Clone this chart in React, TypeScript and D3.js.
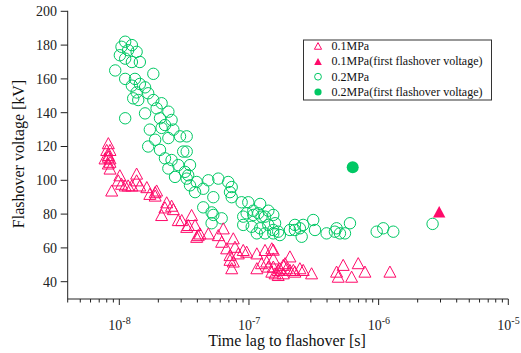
import React, { useEffect } from "react";
import * as d3 from "d3";

// time lag in ns, flashover voltage in kV
const p01: [number, number][] = [
  [8.23, 122], [8.0, 118], [8.48, 118], [8.23, 115], [8.23, 114], [7.76, 113], [8.48, 113],
  [8.48, 111], [8.23, 110], [8.48, 107], [10.1, 103], [9.82, 100], [10.4, 98], [8.74, 94],
  [13.6, 104], [13.6, 100], [12.5, 97], [11.7, 97], [11.1, 97], [14.4, 97], [16.3, 96],
  [18.9, 93], [17.2, 92], [19.4, 94], [18.9, 91], [23.2, 87], [22.5, 84], [26.1, 83],
  [25.3, 85], [21.2, 79.5], [28.5, 76.5], [36.1, 79.5], [33.1, 72.5], [39.5, 66.6],
  [30.3, 76.5], [34, 73.6], [38.4, 73.6], [41.9, 68.6], [48.6, 68.6], [40.6, 67.6],
  [63.4, 71.6], [58, 67.6], [61.6, 63.7], [67.3, 59.8], [75.7, 65.7], [78, 60.7],
  [82.7, 56.8], [71.4, 55.8], [75.7, 52], [73.6, 48], [71.4, 53], [90.3, 58.8], [96, 57.8],
  [115, 56.8], [133, 58.8], [150, 59.8], [125, 51], [115, 48], [137, 52], [154, 53.8],
  [141, 49], [168, 47], [150, 46], [184, 50], [207, 55], [195, 48], [220, 47], [247, 48],
  [168, 44], [154, 59], [154, 49], [173, 48], [190, 51], [207, 47], [226, 46], [262, 47],
  [304, 45], [159, 45], [184, 45], [474, 46], [533, 50], [696, 51], [619, 43], [784, 46],
  [488, 43], [1222, 46],
];
const p01First: [number, number][] = [[2931, 81.4]];

const p02: [number, number][] = [
  [11.1, 182], [12.5, 180], [10.4, 179], [11.7, 177], [13.6, 176], [10.1, 174], [11.1, 172],
  [14.4, 170], [12.5, 170], [9.3, 165], [11.1, 160], [13.2, 160], [18.3, 163], [12.5, 156],
  [14.4, 157], [15.8, 155], [13.6, 152], [16.7, 151.5], [12.8, 148.5], [14.0, 147.5],
  [18.3, 147.5], [21.2, 145.6], [19.4, 142.6], [23.9, 140.6], [11.1, 136.7], [15.8, 139.6],
  [20.6, 136.7], [25.3, 135.7], [22.5, 132.7], [17.2, 130], [21.2, 131], [26.1, 130],
  [29.4, 126], [23.9, 125], [18.9, 124], [16.7, 120], [20.6, 118], [31.1, 117], [22.5, 113],
  [25.3, 112], [23.9, 107], [28.5, 109], [32.1, 105], [26.9, 102], [33.1, 101], [35.1, 97],
  [33.1, 126], [33.1, 117], [35.1, 109], [34, 103], [39.5, 99], [48.6, 100], [58, 101],
  [69.2, 99], [73.6, 96], [71.4, 93], [73.6, 90], [38.4, 93], [44.4, 95], [53.1, 90],
  [44.4, 84], [51.5, 81], [61.6, 77.5], [98.8, 87], [87.8, 87], [122, 86], [108, 82],
  [118, 80.5], [141, 82], [133, 78.5], [96, 80.5], [53.1, 79.5], [51.5, 74.6], [90.3, 78.5],
  [108, 79.5], [125, 78.5], [154, 79.5], [90.3, 73.6], [105, 72.5], [122, 71.6], [141, 73.6],
  [159, 74.6], [168, 69.6], [154, 68.6], [133, 68.6], [115, 68.6], [226, 73.6], [247, 71.6],
  [207, 70.6], [154, 70.6], [173, 67.6], [262, 73.6], [313, 76.5], [323, 70.6], [255, 66.6],
  [226, 70.6], [397, 68.6], [474, 71.6], [601, 74.6], [550, 68.6], [503, 68.6], [460, 69.6],
  [966, 69.6], [1085, 71.6], [1297, 69.6], [2607, 74.2],
];
const p02First: [number, number][] = [[631, 107.7]];

const yTicks = [40, 60, 80, 100, 120, 140, 160, 180, 200];
const xDecades = [-8, -7, -6, -5];
const legendLabels = [
  "0.1MPa",
  "0.1MPa(first flashover voltage)",
  "0.2MPa",
  "0.2MPa(first flashover voltage)",
];

const PINK = "#ff0a6a";
const GREEN = "#00c864";
const FONT = "'Liberation Serif', 'Times New Roman', serif";

const tri = (s: number) => `M0,${-s}L${s},${s * 0.85}L${-s},${s * 0.85}Z`;

export default function App() {
  useEffect(() => {
    document.body.style.margin = "0";
  }, []);
  const W = 521;
  const H = 353;
  const x = d3.scaleLog().domain([4e-9, 1e-5]).range([67.7, 508.3]);
  const y = d3.scaleLinear().domain([30, 200]).range([298.6, 11.3]);
  const x0 = 67.7;
  const yb = 299;

  const minor: number[] = [];
  for (let e = -9; e <= -6; e++) {
    for (let m = 2; m <= 9; m++) {
      const v = m * Math.pow(10, e);
      if (v >= 4e-9 && v <= 1e-5) minor.push(v);
    }
  }
  const ns = (t: number) => t * 1e-9;

  const legY = [45.7, 61.2, 76.7, 92];

  return (
    <svg width={W} height={H} style={{ position: "absolute", left: 0, top: 0, background: "#fff" }} fontFamily={FONT}>
      <rect width={W} height={H} fill="#fff" />
      {/* axes */}
      <line x1={x0} x2={x0} y1={10.8} y2={yb} stroke="#222" strokeWidth={1} />
      <line x1={x0} x2={508.3} y1={yb} y2={yb} stroke="#222" strokeWidth={1} />
      {yTicks.map((t) => (
        <g key={t}>
          <line x1={x0 - 7} x2={x0} y1={y(t)} y2={y(t)} stroke="#222" />
          <text x={57} y={y(t) + 4.8} fontSize={14} textAnchor="end" fill="#222">{t}</text>
        </g>
      ))}
      {minor.map((v, i) => (
        <line key={i} x1={x(v)} x2={x(v)} y1={yb} y2={yb + 3.5} stroke="#222" />
      ))}
      {xDecades.map((e) => (
        <g key={e}>
          <line x1={x(Math.pow(10, e))} x2={x(Math.pow(10, e))} y1={yb} y2={yb + 6} stroke="#222" />
          <text x={x(Math.pow(10, e)) - 11} y={330} fontSize={14} fill="#222">
            <tspan>10</tspan>
            <tspan dy={-6} fontSize={10}>{e}</tspan>
          </text>
        </g>
      ))}
      <text x={287} y={345.5} fontSize={16} textAnchor="middle" fill="#111">Time lag to flashover [s]</text>
      <text transform="translate(24,154) rotate(-90)" fontSize={16} textAnchor="middle" fill="#111">Flashover voltage [kV]</text>

      {/* data */}
      {p02.map(([t, v], i) => (
        <circle key={"g" + i} cx={x(ns(t))} cy={y(v)} r={5.7} fill="none" stroke={GREEN} strokeWidth={1} />
      ))}
      {p01.map(([t, v], i) => (
        <path key={"p" + i} d={tri(6)} transform={`translate(${x(ns(t))},${y(v) + 0.5})`} fill="none" stroke={PINK} strokeWidth={1} />
      ))}
      {p02First.map(([t, v], i) => (
        <circle key={"gf" + i} cx={x(ns(t))} cy={y(v)} r={6} fill={GREEN} />
      ))}
      {p01First.map(([t, v], i) => (
        <path key={"pf" + i} d={tri(6.2)} transform={`translate(${x(ns(t))},${y(v) + 0.5})`} fill={PINK} />
      ))}

      {/* legend */}
      <rect x={303.5} y={40} width={188} height={60} fill="#fff" stroke="#333" strokeWidth={1} />
      <path d={tri(3.6)} transform={`translate(318,${legY[0] + 0.5})`} fill="none" stroke={PINK} />
      <path d={tri(3.8)} transform={`translate(318,${legY[1] + 0.5})`} fill={PINK} />
      <circle cx={318} cy={legY[2]} r={3.4} fill="none" stroke={GREEN} />
      <circle cx={318} cy={legY[3]} r={3.6} fill={GREEN} />
      {legendLabels.map((l, i) => (
        <text key={l} x={331.5} y={legY[i] + 4} fontSize={12} fill="#111">{l}</text>
      ))}
    </svg>
  );
}
